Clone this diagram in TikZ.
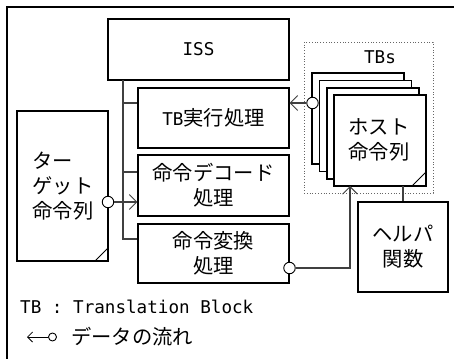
\documentclass[tikz,border=0pt]{standalone}
\usepackage{fontspec}
\setmainfont{Noto Sans CJK JP}
\newfontfamily\mono{DejaVu Sans Mono}
\usetikzlibrary{arrows.meta,calc}
\newcommand{\jpsize}{\fontsize{20.3}{25}\selectfont}
\newcommand{\monosize}{\mono\fontsize{17.6}{25}\selectfont}
\tikzset{
  box/.style={draw, line width=1.1pt, fill=white, inner sep=0pt, align=center, font=\jpsize},
  page/.style={draw, line width=1.1pt, fill=white, inner sep=0pt, minimum width=92, minimum height=91},
  conn/.style={draw=black!75, line width=1.1pt},
  port/.style={circle, draw=black, line width=0.9pt, fill=white, inner sep=0pt, minimum size=11.5},
  barb/.style={-{Straight Barb[length=7.5pt,width=15pt,line width=0.9pt]}},
}
\begin{document}
\begin{tikzpicture}[x=1pt,y=-1pt]
\useasboundingbox (0,0) rectangle (454,358);
\clip (0,0) rectangle (454,358);
\fill[white] (0,0) rectangle (454,358);
% outer frame
\draw[line width=2.2pt] (7,7) rectangle (480,390);

% ISS and process boxes
\node[box, minimum width=181, minimum height=61, font=\monosize] (iss) at (198.5,49.5) {ISS};
\node[box, minimum width=151, minimum height=60] (tbx) at (213.5,118) {{\monosize TB}実行処理};
\node[box, minimum width=151, minimum height=61] (dec) at (213.5,185.5) {命令デコード\\処理};
\node[box, minimum width=151, minimum height=59] (cnv) at (213.5,253.5) {命令変換\\処理};

% tree
\coordinate (t0) at (123,80);
\coordinate (t1) at (123,103);
\coordinate (t2) at (123,172);
\coordinate (t3) at (123,239);
\draw[conn] (t0) -- (t3) -- (t3 -| cnv.west);
\draw[conn] (t1) -- (t1 -| tbx.west);
\draw[conn] (t2) -- (t2 -| dec.west);

% target instruction document
\node[page, minimum width=91, minimum height=150] (tgt) at (62.5,186) {};
\node[font=\jpsize, align=left] (tgtt) at (63,186) {ター\\ゲット\\命令列};
\draw[line width=0.9pt] ($(tgt.south east)+(0,-14)$) -- ($(tgt.south east)+(-14,0)$);

% TBs group
\node[draw=black!60, dotted, line width=0.8pt, minimum width=129, minimum height=151, inner sep=0pt] (grp) at (368.5,117.5) {};
\node[font=\monosize] (tbs) at (380,57) {TBs};
\node[page] (p1) at (358,118.5) {};
\node[page] (p2) at (365.5,126) {};
\node[page] (p3) at (373,133.5) {};
\node[page] (p4) at (380,140.5) {};
\node[font=\jpsize, align=center] (host) at (379,139.5) {ホスト\\命令列};
\draw[line width=0.9pt] ($(p4.south east)+(0,-15)$) -- ($(p4.south east)+(-15,0)$);

% helper box
\node[box, minimum width=90, minimum height=90] (help) at (403,247) {ヘルパ\\関数};
\coordinate (hp) at (403,186);
\draw[conn] (hp) -- (hp |- help.north);

% data flows
\node[port] (c1) at (312.5,103) {};
\draw[conn, barb] (c1.west) -- (c1.west -| tbx.east);

\node[port] (c2) at (108,202) {};
\draw[conn, barb] (c2.east) -- (c2.east -| dec.west);

\node[port] (c3) at (289.5,268) {};
\coordinate (bend) at (350,268);
\coordinate (ptin) at (350,186);
\draw[conn, barb] (c3.east) -- (bend) -- (ptin);

% legend
\node[anchor=west, font=\monosize, inner sep=0pt] (leg1) at (20,307) {TB : Translation Block};
\node[circle, draw, line width=0.9pt, inner sep=0pt, minimum size=8] (lc) at (52.5,337) {};
\coordinate (lt) at (27,337);
\draw[line width=0.9pt, -{Straight Barb[length=5pt,width=10pt,line width=0.8pt]}] (lc.west) -- (lt);
\node[anchor=west, font=\jpsize, inner sep=0pt] (leg2) at (71,337) {データの流れ};
\end{tikzpicture}
\end{document}
